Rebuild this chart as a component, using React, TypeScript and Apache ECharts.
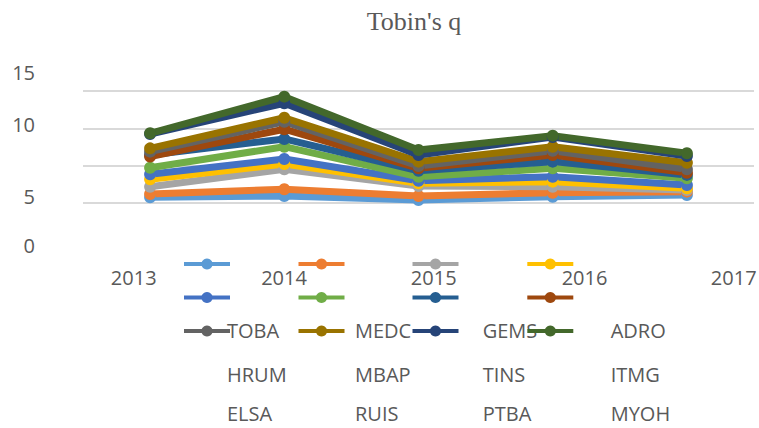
import React, { useEffect, useRef } from "react";
import * as echarts from "echarts";

const title = "Tobin's q";
const categories = ["2013", "2014", "2015", "2016", "2017"];
const yTickLabels = ["15", "10", "5", "0"];
const seriesNames = ["TOBA", "MEDC", "GEMS", "ADRO", "HRUM", "MBAP", "TINS", "ITMG", "ELSA", "RUIS", "PTBA", "MYOH"];
const colors = ["#5B9BD5", "#ED7D31", "#A5A5A5", "#FFC000", "#4472C4", "#70AD47", "#255E91", "#9E480E", "#636363", "#997300", "#264478", "#43682B"];

const TOBA = [5.38, 5.47, 5.2, 5.42, 5.54];
const MEDC = [5.6, 5.92, 5.47, 5.69, 5.76];
const GEMS = [6.09, 7.26, 6.14, 6.09, 5.87];
const ADRO = [6.59, 7.61, 6.32, 6.43, 5.98];
const HRUM = [6.92, 7.95, 6.49, 6.76, 6.21];
const MBAP = [7.36, 8.77, 6.76, 7.32, 6.65];
const TINS = [8.21, 9.29, 7.16, 7.77, 6.88];
const ITMG = [8.11, 9.94, 7.32, 8.21, 7.03];
const ELSA = [8.44, 10.44, 7.48, 8.5, 7.26];
const RUIS = [8.66, 10.71, 7.77, 8.77, 7.7];
const PTBA = [9.62, 11.68, 8.21, 9.42, 8.15];
const MYOH = [9.67, 12.12, 8.55, 9.51, 8.33];
const seriesValues = [TOBA, MEDC, GEMS, ADRO, HRUM, MBAP, TINS, ITMG, ELSA, RUIS, PTBA, MYOH];

export default function App() {
  const ref = useRef<HTMLDivElement>(null);
  useEffect(() => {
    if (!ref.current) return;
    const chart = echarts.init(ref.current, null, { renderer: "svg" });
    const textColor = "#595959";
    const font = "'Open Sans', sans-serif";

    const legendCols = [205, 319.5, 433.5, 548.3];
    const legendRows = [264, 297.5, 331];
    const labelCols = [227, 355, 482.7, 610.7];
    const labelRows = [330.5, 374, 413.5];
    const xLabelX = [133.7, 284, 433.7, 584.5, 733.7];
    const yLabelY = [72.5, 124, 196.7, 245.5];

    const legends = seriesNames.map((n, i) => ({
      data: [n],
      left: legendCols[i % 4] - 23,
      top: legendRows[Math.floor(i / 4)] - 7,
      padding: 0,
      itemWidth: 46,
      itemHeight: 14,
      selectedMode: false,
      formatter: () => "",
      textStyle: { fontSize: 10 },
      lineStyle: { width: 4 },
    }));

    const graphics: any[] = [
      {
        type: "text",
        x: 414,
        y: 21,
        style: { text: title, font: "26px 'Liberation Serif', serif", fill: textColor, align: "center", verticalAlign: "middle" },
      },
      ...yTickLabels.map((t, i) => ({
        type: "text",
        x: 35,
        y: yLabelY[i],
        style: { text: t, font: "20px " + font, fill: textColor, align: "right", verticalAlign: "middle" },
      })),
      ...categories.map((c, i) => ({
        type: "text",
        x: xLabelX[i],
        y: 277,
        style: { text: c, font: "20px " + font, fill: textColor, align: "center", verticalAlign: "middle" },
      })),
      ...seriesNames.map((n, i) => ({
        type: "text",
        x: labelCols[i % 4],
        y: labelRows[Math.floor(i / 4)],
        style: { text: n, font: "20px " + font, fill: textColor, align: "left", verticalAlign: "middle" },
      })),
    ];

    chart.setOption({
      animation: false,
      color: colors,
      grid: { left: 83, right: 5, top: 91, bottom: 225, containLabel: false },
      xAxis: {
        type: "category",
        data: categories,
        boundaryGap: true,
        axisLine: { show: false },
        axisTick: { show: false },
        axisLabel: { show: false },
      },
      yAxis: {
        type: "value",
        min: 5,
        max: 12.5,
        interval: 2.5,
        axisLine: { show: false },
        axisTick: { show: false },
        axisLabel: { show: false },
        splitLine: { lineStyle: { color: "#D9D9D9", width: 2 } },
      },
      legend: legends,
      graphic: graphics,
      series: seriesValues.map((vals, i) => ({
        name: seriesNames[i],
        type: "line",
        data: vals,
        symbol: "circle",
        symbolSize: 12,
        lineStyle: { width: 7, color: colors[i] },
        itemStyle: { color: colors[i] },
      })),
    });
    return () => chart.dispose();
  }, []);
  return <div ref={ref} style={{ position: "absolute", left: 0, top: 0, width: 759, height: 428 }} />;
}
